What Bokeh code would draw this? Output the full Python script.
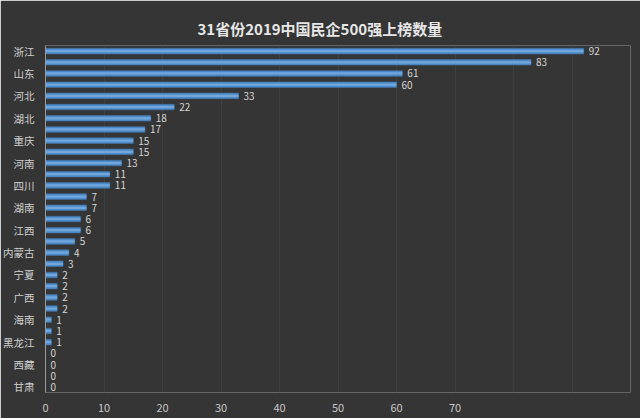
from bokeh.plotting import figure
from bokeh.models import ColumnDataSource, Range1d, FixedTicker
from bokeh.core.properties import value
from bokeh.embed import file_html
from bokeh.resources import INLINE

provinces = ["浙江", "江苏", "山东", "广东", "河北", "北京", "湖北", "上海", "重庆", "福建",
             "河南", "天津", "四川", "辽宁", "湖南", "安徽", "江西", "山西", "内蒙古", "陕西",
             "宁夏", "新疆", "广西", "吉林", "海南", "云南", "黑龙江", "贵州", "西藏", "青海", "甘肃"]
counts = [92, 83, 61, 60, 33, 22, 18, 17, 15, 15,
          13, 11, 11, 7, 7, 6, 6, 5, 4, 3,
          2, 2, 2, 2, 1, 1, 1, 0, 0, 0, 0]
x_ticks = [0, 10, 20, 30, 40, 50, 60, 70]
title_text = "31省份2019中国民企500强上榜数量"

idx = list(range(len(provinces)))
src = ColumnDataSource(dict(y=idx, v=counts, lbl=[str(c) for c in counts]))

BG = "#353535"
FONT = "Noto Sans CJK SC"

p = figure(width=640, height=418, output_backend="svg", toolbar_location=None,
           x_range=Range1d(0, 100), y_range=Range1d(len(provinces) - 0.5, -0.5),
           min_border_left=44, min_border_right=10, min_border_top=45, min_border_bottom=26)
p.background_fill_color = BG
p.border_fill_color = BG
p.outline_line_color = None

p.title.text = title_text
p.title.align = "left"
p.title.text_color = "#e6e6e6"
p.title.text_font = FONT
p.title.text_font_size = "15px"
p.title.text_font_style = "bold"
p.title.offset = 152
p.title.standoff = 14

p.hbar(y="y", right="v", left=0, height=0.5, source=src,
       fill_color="#4f8cc9", line_color="#3f72a8", line_width=0.6)
p.hbar(y="y", right="v", left=0, height=0.2, source=src,
       fill_color="#7fb3e6", line_color=None, fill_alpha=0.7)

p.text(x="v", y="y", text="lbl", source=src, x_offset=5,
       text_baseline="middle", text_align="left", text_font=value(FONT),
       text_font_size="10px", text_color="#d6d6d6")

p.xaxis.ticker = FixedTicker(ticks=x_ticks)
p.xaxis.axis_line_color = None
p.xaxis.major_tick_line_color = None
p.xaxis.minor_tick_line_color = None
p.xaxis.major_label_text_color = "#c8c8c8"
p.xaxis.major_label_text_font = FONT
p.xaxis.major_label_text_font_size = "11px"
p.xaxis.major_label_standoff = 5

even = [i for i in idx if i % 2 == 0]
p.yaxis.ticker = FixedTicker(ticks=even)
p.yaxis.major_label_overrides = {i: provinces[i] for i in even}
p.yaxis.axis_line_color = "#9a9a9a"
p.yaxis.axis_line_width = 1
p.yaxis.major_tick_line_color = None
p.yaxis.minor_tick_line_color = None
p.yaxis.major_label_text_color = "#d0d0d0"
p.yaxis.major_label_text_font = FONT
p.yaxis.major_label_text_font_size = "10.5px"
p.yaxis.major_label_standoff = 5

p.xgrid.ticker = FixedTicker(ticks=list(range(10, 101, 10)))
p.xgrid.grid_line_color = "#3f3f3f"
p.xgrid.grid_line_width = 1
p.ygrid.grid_line_color = None

open("out.html", "w").write(file_html(p, INLINE))
